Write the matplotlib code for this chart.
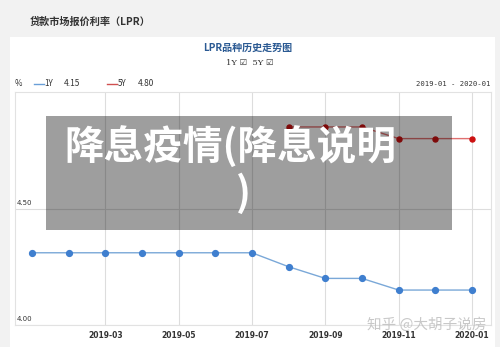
import matplotlib
matplotlib.use("Agg")
import matplotlib.pyplot as plt
from matplotlib.patches import Rectangle
from matplotlib.lines import Line2D

# ---- data ----
months = ["2019-01", "2019-02", "2019-03", "2019-04", "2019-05", "2019-06", "2019-07",
          "2019-08", "2019-09", "2019-10", "2019-11", "2019-12", "2020-01"]
lpr_1y = [4.31, 4.31, 4.31, 4.31, 4.31, 4.31, 4.31, 4.25, 4.20, 4.20, 4.15, 4.15, 4.15]
months_5y = ["2019-08", "2019-09", "2019-10", "2019-11", "2019-12", "2020-01"]
lpr_5y = [4.85, 4.85, 4.85, 4.80, 4.80, 4.80]
tick_labels = ["2019-03", "2019-05", "2019-07", "2019-09", "2019-11", "2020-01"]
ytick_vals = [4.00, 4.50]

W, H = 500, 347
def fx(px): return px / W
def fy(py): return 1 - py / H

plt.rcParams['font.family'] = ['Noto Sans CJK SC', 'DejaVu Sans']

fig = plt.figure(figsize=(5.0, 3.47), dpi=100)
fig.patch.set_facecolor('#f2f2f2')

# white panel
fig.patches.append(Rectangle((fx(10), 0), (495 - 10) / W, fy(37), transform=fig.transFigure,
                             facecolor='white', edgecolor='none', zorder=-1))

# page title
fig.text(fx(30), fy(22), "贷款市场报价利率（LPR）", fontsize=7.3, color='#333333',
         ha='left', va='center', fontweight='bold')
# chart title
fig.text(fx(248), fy(48), "LPR品种历史走势图", fontsize=7.2, color='#2b5a93',
         ha='center', va='center', fontweight='bold')
fig.text(fx(250), fy(63), "1Y ☑  5Y ☑", fontsize=6, color='#333333', ha='center', va='center',
         family=['DejaVu Serif', 'DejaVu Sans'])

# legend row
fig.text(fx(15), fy(84), "%", fontsize=5.8, color='#333333', ha='left', va='center')
fig.lines.append(Line2D([fx(34), fx(44)], [fy(84), fy(84)], transform=fig.transFigure,
                        color='#6a9fd8', lw=1))
fig.text(fx(44.5), fy(84), "1Y", fontsize=5.8, color='#333333', ha='left', va='center')
fig.text(fx(64), fy(84), "4.15", fontsize=6, color='#333333', ha='left', va='center')
fig.lines.append(Line2D([fx(107), fx(117)], [fy(84), fy(84)], transform=fig.transFigure,
                        color='#d05050', lw=1))
fig.text(fx(117.5), fy(84), "5Y", fontsize=5.8, color='#333333', ha='left', va='center')
fig.text(fx(138), fy(84), "4.80", fontsize=6, color='#333333', ha='left', va='center')
fig.text(fx(490), fy(84), "2019-01 - 2020-01", fontsize=5.2, color='#333333', ha='right',
         va='center', family='DejaVu Sans Mono')

# plot axes
left, right, top, bottom = 15, 491, 92, 325
ax = fig.add_axes([fx(left), fy(bottom), (right - left) / W, (bottom - top) / H])
ax.set_facecolor('white')
x_idx = list(range(len(months)))
px_per = (472 - 32) / 12
ax.set_xlim((left - 32) / px_per, (right - 32) / px_per)
ax.set_ylim(4.0, 5.0)

tick_pos = [months.index(t) for t in tick_labels]
ax.set_xticks(tick_pos)
ax.set_xticklabels(tick_labels, fontsize=5.5, color='#333333', fontweight='bold',
                   family='DejaVu Sans')
ax.tick_params(axis='x', length=0, pad=4)
ax.set_yticks(ytick_vals)
ax.set_yticklabels([])
ax.tick_params(axis='y', length=0)
ax.grid(True, color='#dddddd', lw=0.8)
for s in ax.spines.values():
    s.set_color('#e2e2e2')
    s.set_linewidth(0.8)
for v in ytick_vals:
    ax.text(0.004, v + 0.012, f"{v:.2f}", transform=ax.get_yaxis_transform(),
            fontsize=5, color='#333333', ha='left', va='bottom', family='DejaVu Sans')

ax.plot(x_idx, lpr_1y, color='#7aa8d8', lw=1, marker='o', markersize=4.2,
        markerfacecolor='#3f7fcf', markeredgecolor='#3f7fcf', zorder=3)
x5 = [months.index(m) for m in months_5y]
ax.plot(x5, lpr_5y, color='#e07070', lw=1, marker='o', markersize=3.6,
        markerfacecolor='#cc1111', markeredgecolor='#cc1111', zorder=3)

# overlay box with caption
fig.patches.append(Rectangle((fx(46), fy(230)), (452 - 46) / W, (230 - 116) / H,
                             transform=fig.transFigure, facecolor='black', edgecolor='none',
                             alpha=0.38, zorder=5))
fig.text(fx(64), fy(148), "降息疫情(降息说明", fontsize=28.5, color='white', ha='left',
         va='center', fontweight='bold', zorder=6)
fig.text(fx(243), fy(194), ")", fontsize=28.5, color='white', ha='center', va='center',
         fontweight='bold', zorder=6)

# watermark
fig.text(fx(427), fy(325), "知乎 @大胡子说房", fontsize=10.5, color='#bbbbbb', alpha=0.8,
         ha='center', va='center', zorder=6)

fig.savefig("out.png", dpi=100, facecolor=fig.get_facecolor())
